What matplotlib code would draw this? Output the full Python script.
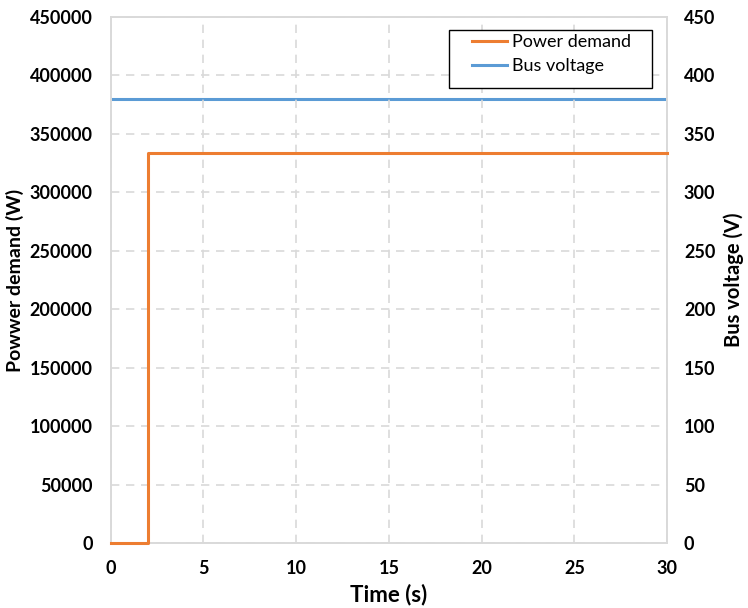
import matplotlib
matplotlib.use("Agg")
import matplotlib.pyplot as plt
from matplotlib.patches import Rectangle

plt.rcParams['font.family'] = ['Lato', 'DejaVu Sans']

# Data
time_s = [0, 2, 2, 30]
power_w = [0, 0, 333333, 333333]
bus_time = [0, 30]
bus_v = [380, 380]

fig = plt.figure(figsize=(7.48, 6.08), dpi=100)
ax = fig.add_axes([0.148, 0.107, 0.744, 0.865])
ax2 = ax.twinx()
# power axis on top so the step at zero sits over the spine
ax.set_zorder(ax2.get_zorder() + 1)
ax.patch.set_visible(False)

l1, = ax.plot(time_s, power_w, color='#ED7D31', lw=2.2, label='Power demand',
              clip_on=False, zorder=5)
l2, = ax2.plot(bus_time, bus_v, color='#5B9BD5', lw=2.2, label='Bus voltage')

ax.set_xlim(0, 30)
ax.set_ylim(0, 450000)
ax2.set_ylim(0, 450)
ax.set_xticks(range(0, 31, 5))
ax.set_yticks(range(0, 450001, 50000))
ax2.set_yticks(range(0, 451, 50))

ax.grid(True, color='#D9D9D9', linestyle=(0, (5, 4)), lw=1.2, zorder=0)
ax.set_axisbelow(True)

for a in (ax, ax2):
    for s in a.spines.values():
        s.set_color('#D9D9D9')
        s.set_linewidth(1.2)
    a.tick_params(length=0, labelsize=13)
    for lab in a.get_xticklabels() + a.get_yticklabels():
        lab.set_fontweight('bold')
ax.tick_params(axis='y', pad=13)
ax.tick_params(axis='x', pad=12)
ax2.tick_params(axis='y', pad=12)

ax.set_xlabel('Time (s)', fontsize=16, fontweight='bold', labelpad=5)
ax.set_ylabel('Powwer demand (W)', fontsize=14, fontweight='bold', labelpad=4)
ax2.set_ylabel('Bus voltage (V)', fontsize=14.5, fontweight='bold', labelpad=6)

leg = ax.legend(handles=[l1, l2], loc='upper left', bbox_to_anchor=(0.649, 0.968),
                fontsize=13, frameon=False, borderpad=0, borderaxespad=0,
                handlelength=1.94, handletextpad=0.3, labelspacing=0.45)
ax.add_patch(Rectangle((0.608, 0.865), 0.365, 0.11, transform=ax.transAxes,
                       facecolor='white', edgecolor='black', lw=1.0, zorder=6))
leg.set_zorder(7)

fig.savefig('out.png', dpi=100)
